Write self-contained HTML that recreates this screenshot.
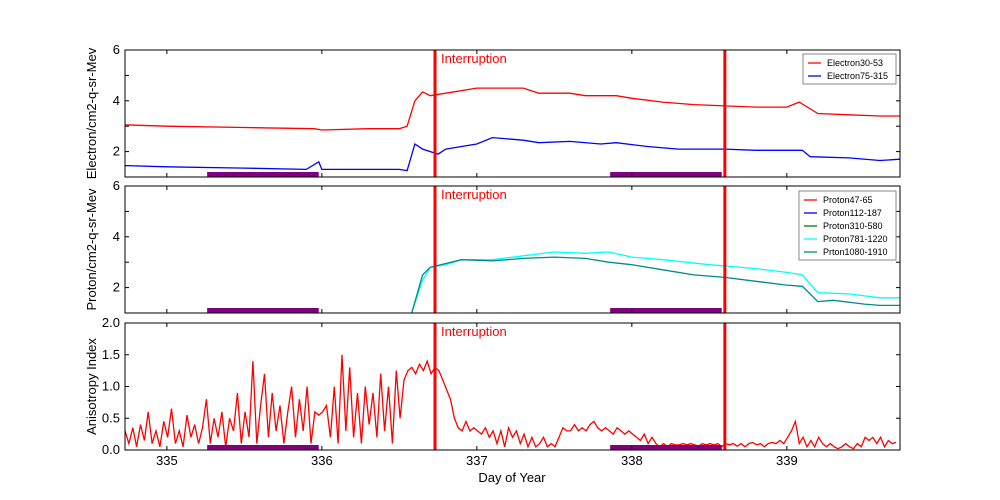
<!DOCTYPE html>
<html><head><meta charset="utf-8"><style>
html,body{margin:0;padding:0;background:#fff;width:1000px;height:500px;overflow:hidden}
svg text{font-family:"Liberation Sans","DejaVu Sans",sans-serif}
</style></head><body>
<svg id="c" width="1000" height="500" xmlns="http://www.w3.org/2000/svg"></svg>
<script>
const xTicks=[335,336,337,338,339];
const e1Days=[334.73,335,335.5,335.95,336.0,336.3,336.5,336.55,336.6,336.65,336.7,336.8,337.0,337.2,337.3,337.4,337.6,337.7,337.9,338.0,338.2,338.4,338.6,338.8,339.0,339.08,339.2,339.4,339.6,339.73];
const e1Vals=[3.05,3.0,2.95,2.9,2.85,2.9,2.9,3.0,4.0,4.35,4.2,4.3,4.5,4.5,4.5,4.3,4.3,4.2,4.2,4.1,3.95,3.85,3.8,3.75,3.75,3.95,3.5,3.45,3.4,3.4];
const e2Days=[334.73,335,335.5,335.9,335.98,336.0,336.5,336.55,336.6,336.65,336.75,336.8,337.0,337.1,337.3,337.4,337.6,337.8,337.9,338.1,338.3,338.6,338.8,339.0,339.1,339.15,339.4,339.6,339.73];
const e2Vals=[1.45,1.4,1.35,1.3,1.6,1.3,1.3,1.25,2.3,2.1,1.9,2.1,2.3,2.55,2.45,2.35,2.4,2.3,2.35,2.2,2.1,2.1,2.05,2.05,2.05,1.8,1.75,1.65,1.7];
const pCyanDays=[336.58,336.65,336.7,336.8,336.9,337.1,337.3,337.5,337.7,337.85,338.0,338.2,338.5,338.8,339.0,339.1,339.2,339.4,339.6,339.73];
const pCyanVals=[1.0,2.3,2.8,2.9,3.1,3.1,3.25,3.4,3.35,3.4,3.2,3.1,2.9,2.75,2.6,2.5,1.8,1.75,1.6,1.6];
const pTealDays=[336.58,336.65,336.7,336.9,337.1,337.3,337.5,337.7,337.85,338.0,338.2,338.4,338.6,338.8,339.0,339.1,339.2,339.3,339.5,339.6,339.73];
const pTealVals=[1.0,2.5,2.8,3.1,3.05,3.15,3.2,3.15,3.0,2.9,2.7,2.5,2.4,2.25,2.1,2.05,1.45,1.5,1.35,1.3,1.3];
const anisoStart=334.73, anisoStep=0.025;
const anisoVals=[0.3,0.1,0.35,0.05,0.4,0.15,0.6,0.1,0.3,0.05,0.45,0.2,0.65,0.1,0.3,0.05,0.55,0.2,0.4,0.1,0.35,
0.8,0.1,0.5,0.2,0.6,0.05,0.5,0.3,0.9,0.1,0.6,0.2,1.4,0.1,0.7,1.2,0.2,0.9,0.3,0.7,0.1,0.6,1.0,0.2,0.8,0.3,1.0,0.1,0.6,0.55,
0.6,0.7,0.2,1.0,0.1,1.5,0.3,1.3,0.2,0.9,0.1,1.0,0.4,0.9,0.2,1.2,0.3,1.0,0.1,1.25,
0.5,1.1,1.25,1.3,1.2,1.35,1.25,1.4,1.2,1.3,
1.25,1.1,0.95,0.8,0.5,0.35,0.3,0.45,0.3,0.35,
0.3,0.25,0.35,0.2,0.3,0.1,0.3,0.05,0.35,0.2,0.3,0.1,0.25,0.05,0.2,0.05,0.1,0.2,0.05,0.1,
0.05,0.2,0.35,0.3,0.3,0.4,0.3,0.35,0.3,0.4,0.45,0.35,0.3,0.35,0.3,0.25,0.35,0.3,0.25,0.3,
0.25,0.2,0.15,0.25,0.1,0.2,0.1,0.05,0.1,0.05,0.1,0.08,0.08,0.1,0.08,0.1,0.08,0.06,0.1,0.08,
0.1,0.08,0.1,0.05,0.1,0.08,0.1,0.06,0.1,0.05,0.1,0.12,0.08,0.1,0.05,0.1,0.12,0.1,0.15,0.1,
0.2,0.3,0.45,0.1,0.2,0.05,0.15,0.05,0.2,0.1,0.05,0.1,0.05,0.02,0.05,0.1,0.05,0.02,0.1,0.05,0.2,0.15,0.2,0.1,0.2,0.05,0.15,0.1,0.12];
const gapStarts=[335.26,337.86];
const gapEnds=[335.98,338.58];
const interruptDays=[336.73,338.6];

const svg=document.getElementById('c');
const NS='http://www.w3.org/2000/svg';
const X0=125,X1=900,D0=334.73,D1=339.73;
const xs=d=>X0+(d-D0)/(D1-D0)*(X1-X0);
function mk(tag,attrs,parent){const e=document.createElementNS(NS,tag);for(const k in attrs)e.setAttribute(k,attrs[k]);(parent||svg).appendChild(e);return e;}
const panels=[{top:50,bot:177,min:1,max:6},{top:186,bot:313,min:1,max:6},{top:323,bot:450,min:0,max:2}];
panels.forEach((p,i)=>{p.ys=v=>p.bot-(v-p.min)/(p.max-p.min)*(p.bot-p.top);});
function line(p,days,vals,color,name){
  const pts=days.map((d,i)=>xs(d).toFixed(1)+','+p.ys(vals[i]).toFixed(1)).join(' ');
  const e=mk('polyline',{points:pts,fill:'none',stroke:color,'stroke-width':1.3});
  
  
}
function frame(p,idx,yt,ylabels,ytitle,showX){
  const g=mk('g',{});
  
  
  yt.forEach(v=>{const y=p.ys(v);mk('line',{x1:X0,x2:X0+4,y1:y,y2:y,stroke:'#000'},g);mk('line',{x1:X1,x2:X1-4,y1:y,y2:y,stroke:'#000'},g);});
  ylabels.forEach(l=>{const t=mk('text',{x:X0-5,y:p.ys(l.v)+4,'text-anchor':'end','font-size':13},g);t.textContent=l.t;});
  xTicks.forEach(d=>{const x=xs(d);mk('line',{x1:x,x2:x,y1:p.bot,y2:p.bot-4,stroke:'#000'},g);mk('line',{x1:x,x2:x,y1:p.top,y2:p.top+4,stroke:'#000'},g);
    if(showX){const t=mk('text',{x:x,y:p.bot+15,'text-anchor':'middle','font-size':13},g);t.textContent=d;}});
  const t=mk('text',{transform:`translate(${X0-29},${(p.top+p.bot)/2}) rotate(-90)`,'text-anchor':'middle','font-size':13},g);t.textContent=ytitle;
  
  
}
function overlays(p,idx){
  gapStarts.forEach((s,i)=>{const r=mk('rect',{x:xs(s),y:p.bot-5,width:xs(gapEnds[i])-xs(s),height:5,fill:'#800080'});
    
    });
  interruptDays.forEach(d=>{const l=mk('line',{x1:xs(d),x2:xs(d),y1:p.top,y2:p.bot,stroke:'#f00','stroke-width':3});
    
    });
  const t=mk('text',{x:xs(interruptDays[0])+6,y:p.top+13,fill:'#f00','font-size':13});t.textContent='Interruption';
  
  
  const b=mk('rect',{x:X0,y:p.top,width:X1-X0,height:p.bot-p.top,fill:'none',stroke:'#000','stroke-width':1});
  
  
}
function legend(x,y,w,items,idx){
  const g=mk('g',{});
  
  
  mk('rect',{x:x,y:y,width:w,height:items.length*13+4,fill:'#fff',stroke:'#888'},g);
  items.forEach((it,i)=>{const yy=y+9+i*13;mk('line',{x1:x+5,x2:x+18,y1:yy,y2:yy,stroke:it[1],'stroke-width':1.3},g);
    const t=mk('text',{x:x+24,y:yy+3,'font-size':9},g);t.textContent=it[0];});
}
const P1=panels[0],P2=panels[1],P3=panels[2];
line(P1,e1Days,e1Vals,'#f00','electron30-53-line');
line(P1,e2Days,e2Vals,'#00f','electron75-315-line');
overlays(P1,1);
frame(P1,1,[2,3,4,5,6],[{v:2,t:'2'},{v:4,t:'4'},{v:6,t:'6'}],'Electron/cm2-q-sr-Mev',false);
legend(803,54,93,[['Electron30-53','#f00'],['Electron75-315','#00f']],1);
line(P2,pCyanDays,pCyanVals,'#00ffff','proton781-1220-line');
line(P2,pTealDays,pTealVals,'#008b8b','proton1080-1910-line');
overlays(P2,2);
frame(P2,2,[2,3,4,5,6],[{v:2,t:'2'},{v:4,t:'4'},{v:6,t:'6'}],'Proton/cm2-q-sr-Mev',false);
legend(799,191,97,[['Proton47-65','#f00'],['Proton112-187','#00f'],['Proton310-580','#008000'],['Proton781-1220','#00ffff'],['Prton1080-1910','#008b8b']],2);
const aDays=anisoVals.map((v,i)=>anisoStart+i*anisoStep);
line(P3,aDays,anisoVals,'#f00','anisotropy-line');
overlays(P3,3);
frame(P3,3,[0,0.5,1,1.5,2],[{v:0,t:'0.0'},{v:0.5,t:'0.5'},{v:1,t:'1.0'},{v:1.5,t:'1.5'},{v:2,t:'2.0'}],'Anisotropy Index',true);
const xt=mk('text',{x:512,y:482,'text-anchor':'middle','font-size':13});xt.textContent='Day of Year';


</script>
</body></html>
